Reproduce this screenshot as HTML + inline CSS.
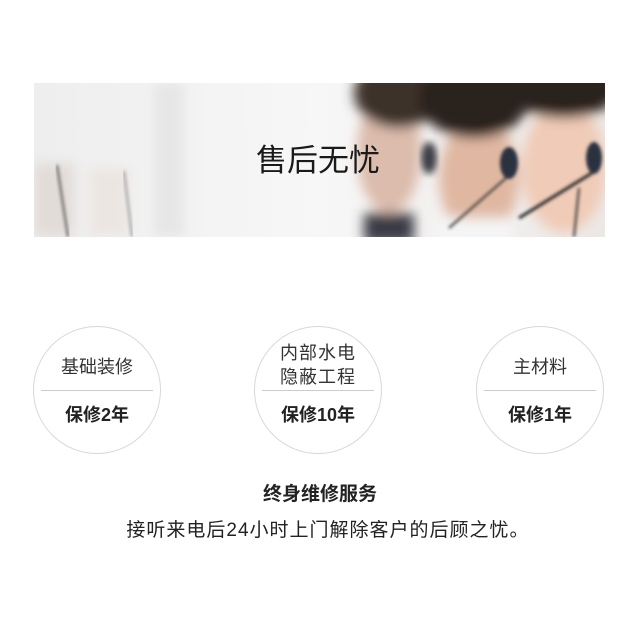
<!DOCTYPE html>
<html><head><meta charset="utf-8">
<style>
body{margin:0;width:640px;height:628px;background:#fff;overflow:hidden;font-family:"Liberation Sans","Noto Sans CJK SC",sans-serif;color:#222;position:relative}
.banner{position:absolute;left:34px;top:83px;width:571px;height:154px;overflow:hidden}
.circle{position:absolute;top:326px;width:128px;height:128px;border:1px solid #d8d8d8;border-radius:50%;box-sizing:border-box}
.circle .top{position:absolute;left:0;right:0;text-align:center;font-size:18px;line-height:24px;color:#333}
.circle .line{position:absolute;left:7px;right:7px;top:63px;height:1px;background:#ccc}
.circle .bot{position:absolute;left:0;right:0;top:74px;text-align:center;font-size:18px;font-weight:bold;color:#222}
.t{position:absolute;left:0;width:640px;text-align:center}
</style></head><body>
<div class="banner">
<svg width="571" height="154" viewBox="0 0 571 154">
<defs>
<linearGradient id="bg" x1="0" x2="1"><stop offset="0" stop-color="#eeeeee"/><stop offset="0.5" stop-color="#f7f7f7"/><stop offset="1" stop-color="#ece8e6"/></linearGradient>
<filter id="b8"><feGaussianBlur stdDeviation="6"/></filter>
<filter id="b4"><feGaussianBlur stdDeviation="3.5"/></filter>
<filter id="b3"><feGaussianBlur stdDeviation="1.5"/></filter>
</defs>
<rect width="571" height="154" fill="url(#bg)"/>
<g filter="url(#b8)">
<rect x="0" y="80" width="40" height="74" fill="#e2dcd8"/>
<rect x="55" y="85" width="40" height="69" fill="#ece6e2"/>
<rect x="120" y="0" width="30" height="154" fill="#e6e6e6"/>
</g>
<line x1="23" y1="82" x2="34" y2="154" stroke="#555" stroke-width="2" filter="url(#b3)"/>
<line x1="90" y1="88" x2="98" y2="154" stroke="#999" stroke-width="2" filter="url(#b3)"/>
<g filter="url(#b8)">
<ellipse cx="355" cy="70" rx="32" ry="60" fill="#dcbcac"/>
<ellipse cx="365" cy="10" rx="45" ry="35" fill="#3e302a"/>
<ellipse cx="445" cy="95" rx="40" ry="60" fill="#e0b8a2"/>
<ellipse cx="440" cy="15" rx="55" ry="40" fill="#2a201c"/>
<ellipse cx="530" cy="85" rx="42" ry="65" fill="#f0cbb7"/>
<ellipse cx="530" cy="5" rx="55" ry="30" fill="#2a201c"/>
<rect x="330" y="130" width="50" height="30" fill="#3a3a44"/>
<rect x="400" y="135" width="80" height="25" fill="#f5f5f5"/>
</g>
<g filter="url(#b3)">
<ellipse cx="395" cy="75" rx="8" ry="16" fill="#3a3a44" filter="url(#b4)"/>
<ellipse cx="475" cy="80" rx="9" ry="16" fill="#2a3040"/>
<ellipse cx="560" cy="75" rx="8" ry="16" fill="#2a3040"/>
<line x1="558" y1="90" x2="485" y2="135" stroke="#222" stroke-width="3"/>
<line x1="472" y1="95" x2="415" y2="145" stroke="#333" stroke-width="2"/>
<line x1="545" y1="105" x2="540" y2="154" stroke="#333" stroke-width="2"/>
</g>
<text x="284" y="88" text-anchor="middle" font-size="31" font-family="Liberation Sans, Noto Sans CJK SC, sans-serif" fill="#1a1a1a">售后无忧</text>
</svg>
</div>
<div class="circle" style="left:33px">
<div class="top" style="top:28px">基础装修</div>
<div class="line"></div>
<div class="bot">保修2年</div>
</div>
<div class="circle" style="left:254px">
<div class="top" style="top:14px;letter-spacing:1px">内部水电<br>隐蔽工程</div>
<div class="line"></div>
<div class="bot">保修10年</div>
</div>
<div class="circle" style="left:476px">
<div class="top" style="top:28px">主材料</div>
<div class="line"></div>
<div class="bot">保修1年</div>
</div>
<div class="t" style="top:479px;font-size:19px;font-weight:bold">终身维修服务</div>
<div class="t" style="top:515px;left:8px;font-size:19px;letter-spacing:1px;color:#222">接听来电后24小时上门解除客户的后顾之忧。</div>
</body></html>
